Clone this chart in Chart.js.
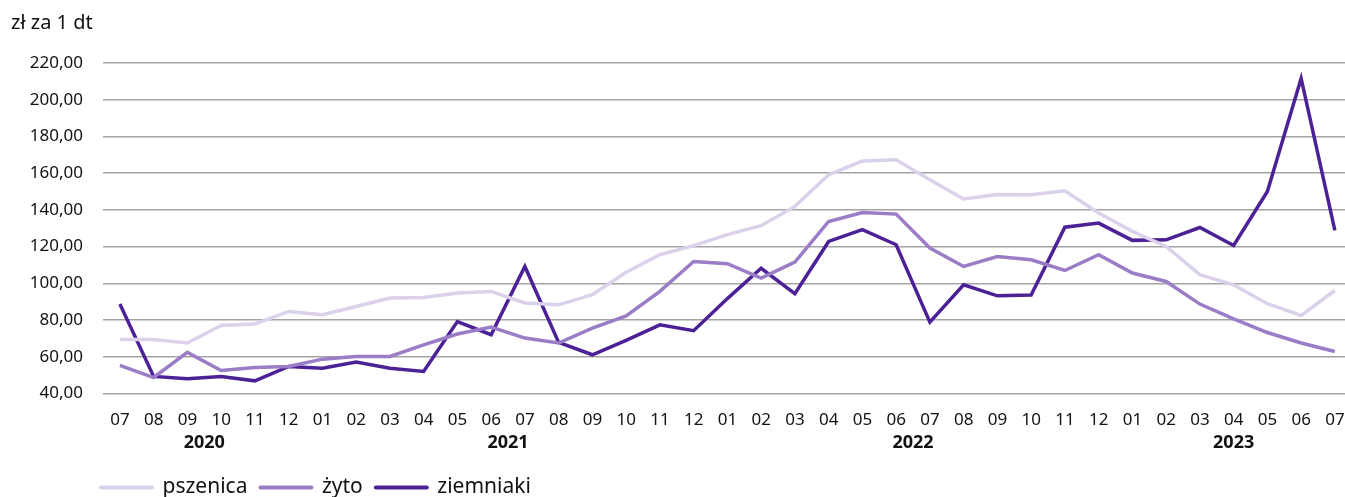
<!DOCTYPE html>
<html>
<head>
<meta charset="utf-8">
<script src="https://cdn.jsdelivr.net/npm/chart.js@4"></script>
<style>
  html, body { margin: 0; padding: 0; background: #ffffff; overflow: hidden; }
  #wrap { position: relative; width: 1345px; height: 497px; }
</style>
</head>
<body>
<div id="wrap"><canvas id="c" width="1345" height="497"></canvas></div>
<script>
const months = ['07','08','09','10','11','12','01','02','03','04','05','06','07','08','09','10','11','12','01','02','03','04','05','06','07','08','09','10','11','12','01','02','03','04','05','06','07'];
const years = ['2020','2021','2022','2023'];
const yearFirst = [0, 6, 18, 30];
const yearLast = [5, 17, 29, 36];
const yTicks = [40, 60, 80, 100, 120, 140, 160, 180, 200, 220];
const unitLabel = 'zł za 1 dt';

const seriesNames = ['pszenica', 'żyto', 'ziemniaki'];
const pszenica = [69.4, 69.4, 67.5, 77.1, 77.8, 84.7, 82.9, 87.4, 92.0, 92.3, 94.7, 95.6, 89.3, 88.3, 93.8, 106.0, 115.6, 120.5, 126.5, 131.4, 141.9, 159.1, 166.6, 167.3, 156.4, 145.9, 148.4, 148.3, 150.4, 138.3, 128.3, 120.1, 104.7, 99.2, 88.9, 82.5, 96.1];
const zyto = [55.3, 48.7, 62.4, 52.5, 54.2, 54.7, 58.7, 60.2, 60.2, 66.5, 72.4, 76.2, 70.2, 67.5, 75.6, 82.3, 95.6, 111.9, 110.7, 102.9, 111.6, 133.7, 138.6, 137.7, 119.2, 109.2, 114.6, 112.8, 107.0, 115.6, 105.6, 101.0, 88.7, 80.7, 73.2, 67.5, 62.9];
const ziemniaki = [88.7, 49.3, 48.0, 49.3, 46.9, 54.7, 53.8, 57.1, 53.8, 52.0, 79.2, 72.0, 109.2, 67.8, 61.1, 68.9, 77.4, 74.2, 91.7, 108.2, 94.4, 122.8, 129.2, 121.0, 78.9, 99.2, 93.2, 93.6, 130.6, 132.8, 123.4, 123.7, 130.4, 120.6, 150.0, 211.6, 128.8];
const colors = ['#dcd1ea', '#9a7dc6', '#4c2196'];

const FONT = 'Noto Sans';
const toPoints = arr => arr.map((v, i) => ({x: i, y: v}));

const extraText = {
  id: 'extraText',
  afterDraw(chart) {
    const ctx = chart.ctx;
    const xs = chart.scales.x;
    ctx.save();
    ctx.fillStyle = '#111111';
    ctx.textBaseline = 'middle';
    ctx.textAlign = 'center';
    ctx.font = 'bold 18px "' + FONT + '"';
    years.forEach((y, i) => {
      const px = xs.getPixelForValue((yearFirst[i] + yearLast[i]) / 2);
      ctx.fillText(y, px, 443);
    });
    ctx.textAlign = 'left';
    ctx.font = '20px "' + FONT + '"';
    ctx.fillText(unitLabel, 11, 23);
    ctx.restore();
  },
  afterLayout(chart) {
    const lg = chart.legend;
    if (lg) {
      lg.left = 88;
      lg.top += 11;
      lg.bottom += 11;
    }
  }
};

new Chart(document.getElementById('c'), {
  type: 'line',
  data: {
    datasets: [
      { label: seriesNames[0], data: toPoints(pszenica), borderColor: colors[0], backgroundColor: colors[0] },
      { label: seriesNames[1], data: toPoints(zyto), borderColor: colors[1], backgroundColor: colors[1] },
      { label: seriesNames[2], data: toPoints(ziemniaki), borderColor: colors[2], backgroundColor: colors[2] }
    ]
  },
  options: {
    responsive: false,
    animation: false,
    devicePixelRatio: 1,
    layout: { padding: { top: 63, left: 0, right: 0, bottom: 0 } },
    elements: {
      line: { borderWidth: 3.5, tension: 0, fill: false, borderCapStyle: 'butt', borderJoinStyle: 'miter' },
      point: { radius: 0, hoverRadius: 0, borderWidth: 3.5 }
    },
    plugins: {
      tooltip: { enabled: false },
      title: { display: false },
      legend: {
        display: true,
        position: 'bottom',
        align: 'start',
        labels: {
          usePointStyle: true,
          pointStyle: 'line',
          pointStyleWidth: 51,
          boxHeight: 21,
          padding: 13,
          color: '#111111',
          font: { family: FONT, size: 21 },
          generateLabels(chart) {
            const items = Chart.defaults.plugins.legend.labels.generateLabels(chart);
            items.forEach(it => { it.lineWidth = 4; it.lineCap = 'round'; });
            return items;
          }
        }
      }
    },
    scales: {
      x: {
        type: 'linear',
        min: -0.5,
        max: 36.3,
        afterBuildTicks(axis) { axis.ticks = months.map((m, i) => ({ value: i })); },
        afterFit(axis) {
          axis.height = 59.5;
          axis.paddingLeft = 0;
          axis.paddingRight = 0;
        },
        grid: { display: false, drawTicks: false },
        border: { display: false },
        ticks: {
          autoSkip: false,
          maxRotation: 0,
          padding: 16,
          color: '#111111',
          font: { family: FONT, size: 17 },
          callback: (v) => months[v] !== undefined ? months[v] : ''
        }
      },
      y: {
        min: 40,
        max: 220,
        afterBuildTicks(axis) { axis.ticks = yTicks.map(v => ({ value: v })); },
        afterFit(axis) { axis.width = 103; axis.paddingTop = 0; axis.paddingBottom = 0; },
        grid: { color: '#a3a3a3', lineWidth: 1.5, drawTicks: false },
        border: { display: false },
        ticks: {
          padding: 20,
          color: '#111111',
          font: { family: FONT, size: 17 },
          callback: (v) => v.toFixed(2).replace('.', ',')
        }
      }
    }
  },
  plugins: [extraText]
});
</script>
</body>
</html>
